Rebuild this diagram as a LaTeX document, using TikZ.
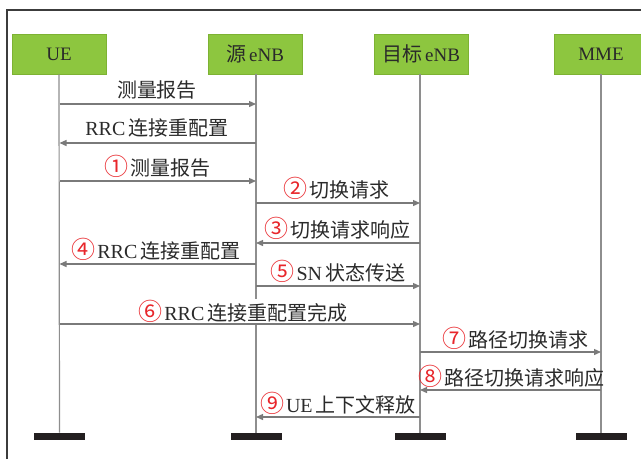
\documentclass[tikz,border=0pt]{standalone}
\usepackage{fontspec}
\setmainfont{Liberation Serif}
\newfontfamily\cjk{Noto Sans CJK SC}
\usetikzlibrary{arrows.meta}
\definecolor{boxgreen}{HTML}{8DC63F}
\definecolor{boxedge}{HTML}{7DB233}
\definecolor{txt}{HTML}{2A2A2A}
\definecolor{lifecol}{HTML}{8E8E8E}
\definecolor{msgcol}{HTML}{7A7A7A}
\definecolor{numred}{HTML}{E8262B}
\definecolor{barcol}{HTML}{231F20}
\definecolor{framecol}{HTML}{3C3C3C}
\newcommand{\cn}[1]{{\color{numred}\cjk\fontsize{24}{24}\selectfont #1}\hspace{2pt}}
\newcommand{\zh}[1]{{\cjk\fontsize{20}{21}\selectfont #1}}
\tikzset{
  actor/.style={draw=boxedge, line width=0.8pt, fill=boxgreen, minimum width=94pt, minimum height=40pt, inner sep=0pt, text=txt, font=\fontsize{19}{20}\selectfont},
  endbar/.style={fill=barcol, draw=none, minimum width=51pt, minimum height=7.5pt, inner sep=0pt},
  life/.style={draw=lifecol, line width=1.2pt},
  msg/.style={draw=msgcol, line width=1.3pt, -{Triangle[length=7pt,width=6pt]}, color=msgcol},
  lbl/.style={inner sep=0.5pt, text=txt, font=\fontsize{20}{21}\selectfont},
  lblw/.style={lbl, fill=white}
}
\begin{document}
\begin{tikzpicture}[x=1pt,y=-1pt]
\useasboundingbox (0,0) rectangle (641,459);
\draw[framecol, line width=1.5pt] (7,459) -- (7,10) -- (641,10);
% actors
\node[actor] (ue) at (59,54) {UE};
\node[actor] (src) at (255,54) {\zh{源}\,eNB};
\node[actor] (tgt) at (421,54) {\zh{目标}\,eNB};
\node[actor] (mme) at (601,54) {MME};
% end bars
\node[endbar] (bue) at (59.5,436.5) {};
\node[endbar] (bsrc) at (256,436.5) {};
\node[endbar] (btgt) at (420,436.5) {};
\node[endbar] (bmme) at (601,436.5) {};
% lifelines
\draw[life] (ue.south) -- (bue.north);
\draw[life] (src.south -| bsrc) -- (bsrc.north);
\draw[life] (tgt.south -| btgt) -- (btgt.north);
\draw[life] (mme.south) -- (bmme.north);
% labels
\node[lbl] (l1) at (157,90) {\zh{测量报告}};
\node[lbl] (l2) at (157,128) {RRC\,\zh{连接重配置}};
\node[lbl] (l3) at (157,166) {\cn{①}\zh{测量报告}};
\node[lbl] (l4) at (336,188) {\cn{②}\zh{切换请求}};
\node[lbl] (l5) at (337,228) {\cn{③}\zh{切换请求响应}};
\node[lbl] (l6) at (156,249) {\cn{④}RRC\,\zh{连接重配置}};
\node[lbl] (l7) at (338,271) {\cn{⑤}SN\,\zh{状态传送}};
\node[lblw] (l8) at (243,311) {\cn{⑥}RRC\,\zh{连接重配置完成}};
\node[lbl] (l9) at (515,338) {\cn{⑦}\zh{路径切换请求}};
\node[lbl] (l10) at (511,376) {\cn{⑧}\zh{路径切换请求响应}};
\node[lbl] (l11) at (338,403) {\cn{⑨}UE\,\zh{上下文释放}};
% messages
\draw[msg] (bue |- 0,104) -- (bsrc |- 0,104);
\draw[msg] (bsrc |- 0,143) -- (bue |- 0,143);
\draw[msg] (bue |- 0,181) -- (bsrc |- 0,181);
\draw[msg] (bsrc |- 0,203) -- (btgt |- 0,203);
\draw[msg] (btgt |- 0,243) -- (bsrc |- 0,243);
\draw[msg] (bsrc |- 0,264) -- (bue |- 0,264);
\draw[msg] (bsrc |- 0,286) -- (btgt |- 0,286);
\draw[msg] (bue |- 0,324) -- (btgt |- 0,324);
\draw[msg] (btgt |- 0,352) -- (bmme |- 0,352);
\draw[msg] (bmme |- 0,390) -- (btgt |- 0,390);
\draw[msg] (btgt |- 0,417) -- (bsrc |- 0,417);
\end{tikzpicture}
\end{document}
